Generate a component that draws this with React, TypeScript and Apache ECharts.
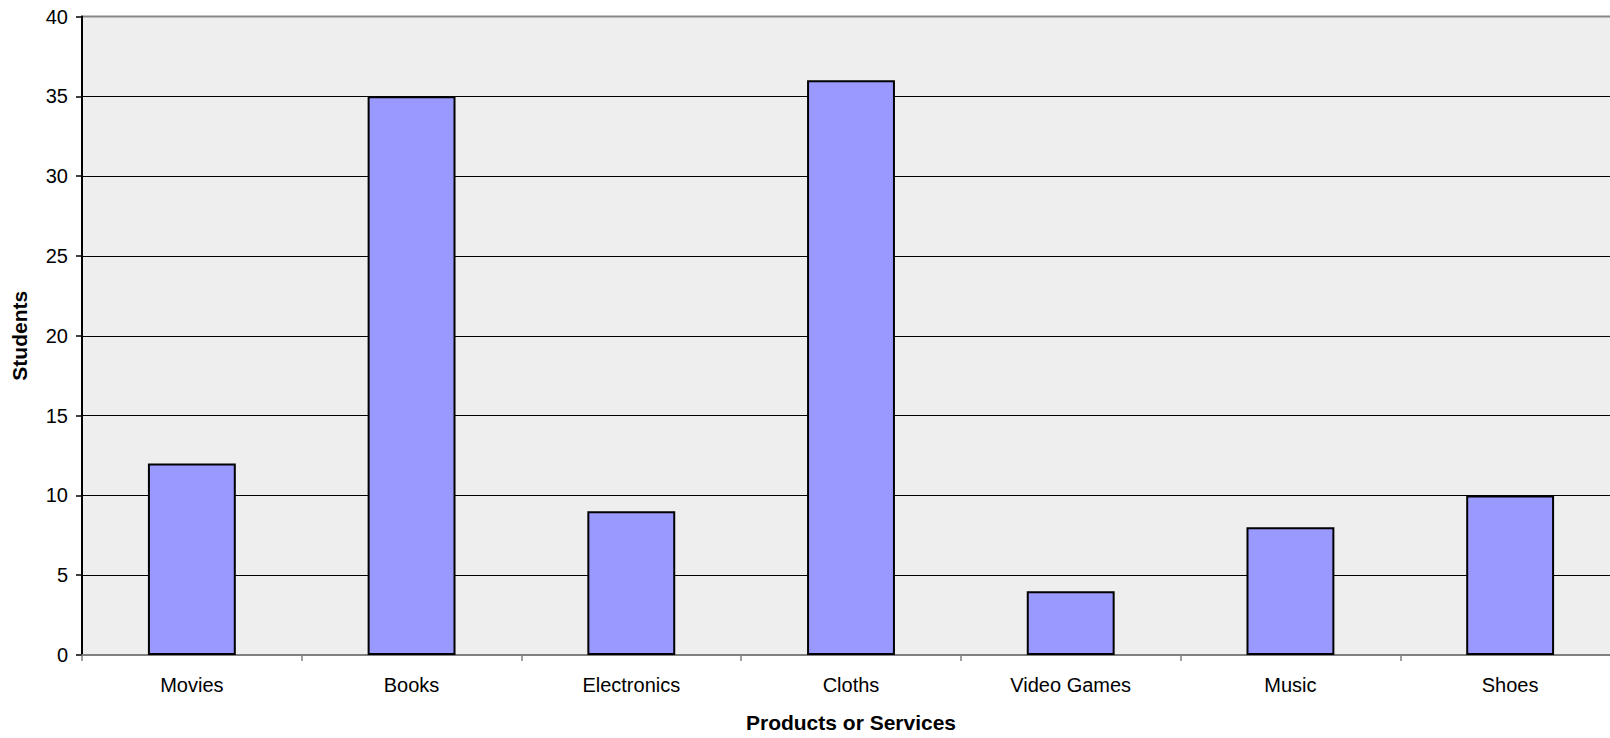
import React, { useEffect, useRef } from "react";
import * as echarts from "echarts";

const categories = ["Movies", "Books", "Electronics", "Cloths", "Video Games", "Music", "Shoes"];
const students = [12, 35, 9, 36, 4, 8, 10];
const xTitle = "Products or Services";
const yTitle = "Students";

export default function App() {
  const ref = useRef<HTMLDivElement>(null);
  useEffect(() => {
    if (!ref.current) return;
    const chart = echarts.init(ref.current, undefined, { renderer: "svg" });
    chart.setOption({
      animation: false,
      textStyle: { fontFamily: "Liberation Sans, Arial, sans-serif" },
      grid: {
        left: 82,
        top: 16.5,
        width: 1538,
        height: 643,
        show: true,
        backgroundColor: "#eeeeee",
        borderColor: "#888888",
        borderWidth: 2,
      },
      xAxis: {
        type: "category",
        data: categories,
        name: xTitle,
        nameLocation: "middle",
        nameGap: 57,
        nameTextStyle: { fontWeight: "bold", fontSize: 21, color: "#000" },
        axisLine: { lineStyle: { color: "#808080", width: 2 } },
        axisTick: { show: true, length: 6, lineStyle: { color: "#808080", width: 1.5 } },
        axisLabel: { color: "#000", fontSize: 20, margin: 20 },
      },
      yAxis: {
        type: "value",
        min: 0,
        max: 40,
        interval: 5,
        name: yTitle,
        nameLocation: "middle",
        nameGap: 52,
        nameTextStyle: { fontWeight: "bold", fontSize: 21, color: "#000" },
        axisLine: { show: true, lineStyle: { color: "#000", width: 2 } },
        axisTick: { show: true, length: 6, lineStyle: { color: "#000", width: 1.5 } },
        axisLabel: { color: "#000", fontSize: 20, margin: 14 },
        splitLine: { show: true, showMaxLine: false, lineStyle: { color: "#000", width: 1 } },
      },
      series: [
        {
          type: "bar",
          data: students,
          barWidth: "40%",
          itemStyle: { color: "#9999ff", borderColor: "#000", borderWidth: 2 },
        },
      ],
    });
    return () => chart.dispose();
  }, []);
  return (
    <div style={{ position: "fixed", left: 0, top: 0, width: 1610, height: 738, overflow: "hidden", background: "#fff" }}>
      <div ref={ref} style={{ width: 1640, height: 738 }} />
    </div>
  );
}
